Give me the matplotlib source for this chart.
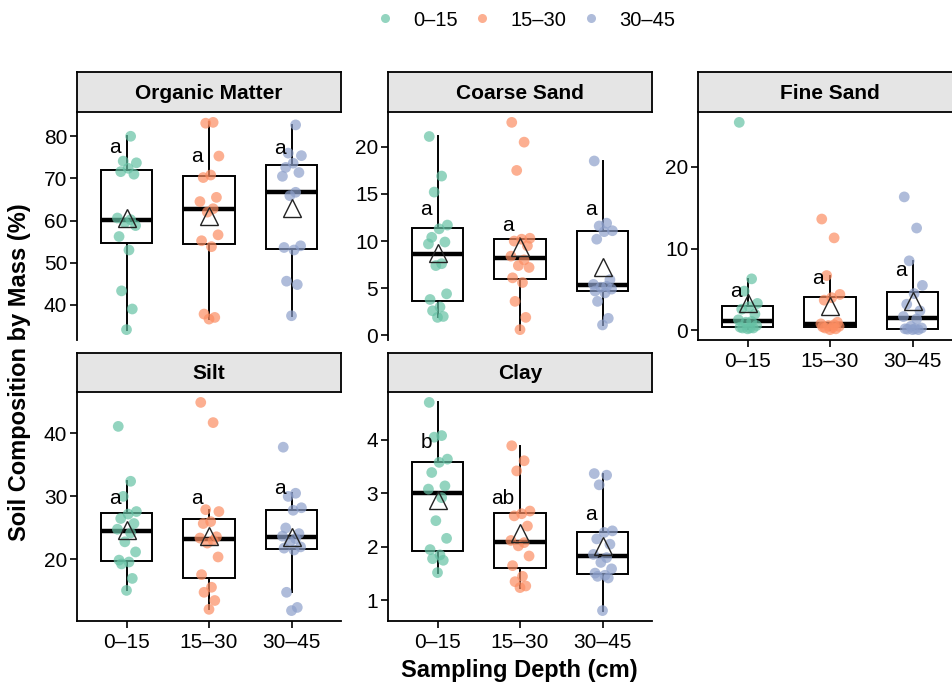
import matplotlib.pyplot as plt
from matplotlib.lines import Line2D
import numpy as np

plt.rcParams['font.family'] = ['Liberation Sans', 'DejaVu Sans']

# Profondeurs et couleurs (Set2)
profondeurs = ['0–15', '15–30', '30–45']
couleurs = ['#66C2A5', '#FC8D62', '#8DA0CB']

# Valeurs (%)
om_0_15 = [34.1, 39.0, 43.3, 53.0, 56.2, 58.8, 59.5, 60.2, 60.6, 71.0, 71.6, 72.4, 73.7, 74.1, 80.0]
om_15_30 = [36.6, 37.0, 37.8, 53.8, 55.2, 56.6, 62.0, 62.8, 64.5, 65.5, 70.2, 70.8, 75.3, 83.1, 83.3]
om_30_45 = [37.4, 44.8, 45.6, 53.0, 53.6, 54.0, 65.9, 66.7, 70.5, 71.4, 72.6, 73.6, 75.4, 76.0, 82.7]

cs_0_15 = [1.9, 2.0, 2.6, 3.0, 3.8, 4.4, 7.4, 7.6, 9.7, 9.9, 10.4, 11.3, 11.7, 15.2, 16.9, 21.1]
cs_15_30 = [0.6, 1.9, 3.6, 5.6, 6.1, 7.2, 7.4, 8.0, 8.4, 9.5, 10.0, 10.2, 10.3, 17.5, 20.5, 22.6]
cs_30_45 = [1.1, 1.8, 3.6, 4.5, 4.7, 4.9, 5.1, 5.2, 5.4, 5.9, 10.2, 11.0, 11.1, 11.6, 11.9, 18.5]

fs_0_15 = [0.2, 0.3, 0.3, 0.3, 0.4, 0.6, 1.0, 1.1, 1.3, 2.0, 2.6, 2.9, 3.3, 4.8, 6.3, 25.4]
fs_15_30 = [0.1, 0.2, 0.3, 0.35, 0.45, 0.5, 0.6, 0.7, 0.8, 1.0, 3.7, 4.0, 4.4, 6.7, 11.3, 13.6]
fs_30_45 = [0.1, 0.1, 0.15, 0.2, 0.2, 0.3, 0.5, 1.4, 1.7, 2.4, 3.2, 4.5, 5.5, 8.5, 12.5, 16.3]

silt_0_15 = [15.1, 17.0, 19.3, 19.6, 19.9, 21.2, 22.8, 24.2, 24.8, 25.7, 26.5, 27.2, 27.6, 30.0, 32.4, 41.1]
silt_15_30 = [12.1, 13.5, 14.8, 15.6, 17.6, 20.4, 22.6, 23.0, 23.4, 23.6, 25.7, 26.0, 27.6, 27.9, 41.7, 44.9]
silt_30_45 = [11.9, 12.4, 14.8, 21.5, 21.8, 22.0, 22.8, 23.3, 23.7, 24.1, 25.0, 27.8, 28.2, 30.0, 30.5, 37.8]

clay_0_15 = [1.52, 1.75, 1.78, 1.85, 1.95, 2.16, 2.49, 2.92, 3.08, 3.14, 3.39, 3.58, 3.64, 4.05, 4.08, 4.70]
clay_15_30 = [1.24, 1.27, 1.35, 1.45, 1.65, 1.83, 2.02, 2.08, 2.12, 2.39, 2.58, 2.62, 2.67, 3.42, 3.61, 3.89]
clay_30_45 = [0.81, 1.42, 1.45, 1.47, 1.51, 1.59, 1.71, 1.80, 1.86, 2.05, 2.15, 2.27, 2.30, 3.16, 3.34, 3.37]

# Lettres de significativité et leur hauteur
lettres_om = ['a', 'a', 'a']
lettres_cs = ['a', 'a', 'a']
lettres_fs = ['a', 'a', 'a']
lettres_silt = ['a', 'a', 'a']
lettres_clay = ['b', 'ab', 'a']
y_lettres_om = [77.3, 75.3, 77.1]
y_lettres_cs = [13.4, 11.7, 13.4]
y_lettres_fs = [4.8, 6.3, 7.3]
y_lettres_silt = [29.6, 29.6, 31.2]
y_lettres_clay = [3.95, 2.90, 2.61]

# Graduations
ticks_om = [40, 50, 60, 70, 80]
ticks_cs = [0, 5, 10, 15, 20]
ticks_fs = [0, 10, 20]
ticks_silt = [20, 30, 40]
ticks_clay = [1, 2, 3, 4]

# petit décalage horizontal fixe des points (jitter)
decalages = [0.0, 0.07, -0.06, 0.03, -0.09, 0.11, -0.02, 0.05,
             -0.11, 0.09, -0.07, 0.02, 0.12, -0.04, 0.05, -0.1]

W, H = 952, 684
fig = plt.figure(figsize=(W / 100, H / 100), dpi=100)


def px(gauche, haut, droite, bas):
    return [gauche / W, 1 - bas / H, (droite - gauche) / W, (bas - haut) / H]


def dessiner_panneau(zone, haut_strip, titre, groupes, lettres, y_lettres, ticks, axe_x):
    gauche, haut, droite, bas = zone
    ax = fig.add_axes(px(gauche, haut, droite, bas))
    for i, vals in enumerate(groupes):
        x = i + 1
        ax.boxplot(vals, positions=[x], widths=0.63, showfliers=False, showcaps=False,
                   patch_artist=True,
                   boxprops=dict(facecolor='white', edgecolor='black', linewidth=1.4),
                   medianprops=dict(color='black', linewidth=3.2),
                   whiskerprops=dict(color='black', linewidth=1.4), zorder=2)
        ax.scatter(x + np.array(decalages[:len(vals)]), vals, s=60, color=couleurs[i],
                   alpha=0.7, edgecolors='none', zorder=3)
        ax.plot(x, np.mean(vals), marker='^', ms=13, mfc='none', mec='#222222', mew=1.0, zorder=4)
        ax.text(x - 0.07, y_lettres[i], lettres[i], ha='right', va='center', fontsize=15, zorder=5)

    tout = np.concatenate(groupes)
    marge = 0.05 * (tout.max() - tout.min())
    ax.set_ylim(tout.min() - marge, tout.max() + marge)
    ax.set_xlim(0.4, 3.6)
    ax.set_yticks(ticks)
    ax.tick_params(axis='both', direction='out', length=5, width=1.2, colors='black',
                   labelsize=15, pad=2)
    ax.spines['top'].set_visible(False)
    ax.spines['right'].set_visible(False)
    ax.spines['left'].set_linewidth(1.3)
    if axe_x:
        ax.set_xticks([1, 2, 3])
        ax.set_xticklabels(profondeurs)
        ax.spines['bottom'].set_linewidth(1.3)
        ax.tick_params(axis='x', pad=4)
    else:
        ax.set_xticks([])
        ax.spines['bottom'].set_visible(False)

    # bandeau du titre
    strip = fig.add_axes(px(gauche, haut_strip, droite, haut))
    strip.set_facecolor('#E5E5E5')
    strip.set_xticks([])
    strip.set_yticks([])
    for s in strip.spines.values():
        s.set_linewidth(1.3)
        s.set_color('black')
    strip.text(0.5, 0.47, titre, ha='center', va='center', fontsize=15, fontweight='bold',
               transform=strip.transAxes)
    return ax


dessiner_panneau((77, 112, 341, 340), 72, 'Organic Matter', [om_0_15, om_15_30, om_30_45],
                 lettres_om, y_lettres_om, ticks_om, False)
dessiner_panneau((388, 112, 652, 340), 72, 'Coarse Sand', [cs_0_15, cs_15_30, cs_30_45],
                 lettres_cs, y_lettres_cs, ticks_cs, False)
dessiner_panneau((698, 112, 962, 340), 72, 'Fine Sand', [fs_0_15, fs_15_30, fs_30_45],
                 lettres_fs, y_lettres_fs, ticks_fs, True)
dessiner_panneau((77, 392, 341, 621), 353, 'Silt', [silt_0_15, silt_15_30, silt_30_45],
                 lettres_silt, y_lettres_silt, ticks_silt, True)
dessiner_panneau((388, 392, 652, 621), 353, 'Clay', [clay_0_15, clay_15_30, clay_30_45],
                 lettres_clay, y_lettres_clay, ticks_clay, True)

fig.text(20 / W, 1 - 372 / H, 'Soil Composition by Mass (%)', rotation=90, ha='center',
         va='center', fontsize=17, fontweight='bold')
fig.text(519 / W, 1 - 671 / H, 'Sampling Depth (cm)', ha='center', va='center',
         fontsize=17, fontweight='bold')

poignees = [Line2D([], [], marker='o', ls='none', ms=6.5, color=c, alpha=0.7, mec='none')
            for c in couleurs]
fig.legend(poignees, profondeurs, loc='center', bbox_to_anchor=(525 / W, 1 - 20 / H), ncol=3,
           frameon=False, fontsize=14.5, handletextpad=0.9, columnspacing=0.7, handlelength=1.0)

fig.savefig('out.png', dpi=100)
